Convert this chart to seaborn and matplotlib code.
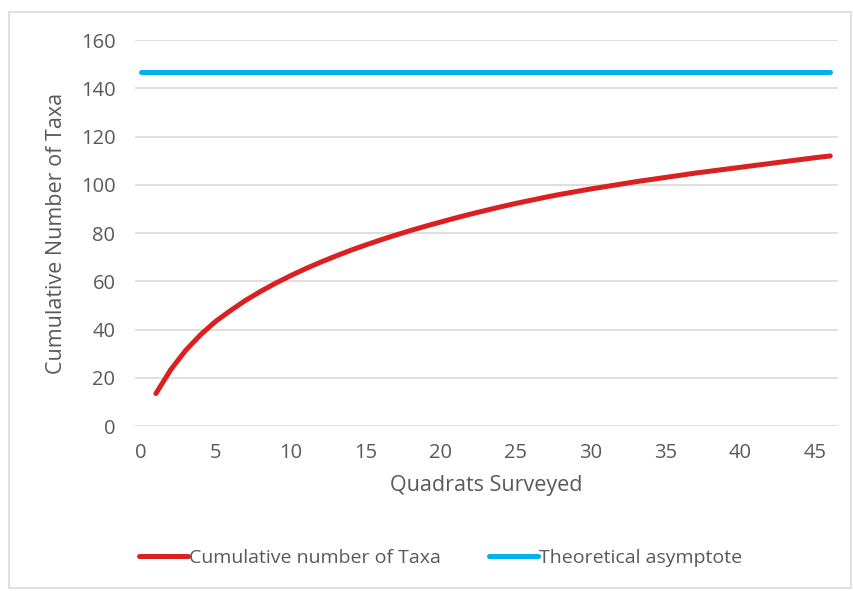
import numpy as np
import pandas as pd
import seaborn as sns
import matplotlib.pyplot as plt
from matplotlib.patches import Rectangle

# values
quadrats = list(range(1, 47))
cumulative_taxa = [13.5, 23.5, 31.5, 38, 43.5, 48, 52.2, 55.9, 59.3, 62.4,
                   65.3, 68, 70.5, 72.9, 75.1, 77.2, 79.2, 81.1, 82.9, 84.6,
                   86.3, 87.9, 89.4, 90.9, 92.3, 93.6, 94.9, 96.1, 97.2, 98.3,
                   99.3, 100.3, 101.3, 102.2, 103.1, 104.0, 104.9, 105.7, 106.5, 107.3,
                   108.1, 108.9, 109.7, 110.5, 111.3, 112.0]
asymptote_x = [0, 46]
asymptote_y = [147, 147]

x_ticks = list(range(0, 50, 5))
y_ticks = list(range(0, 180, 20))

sns.set_style("white")
plt.rcParams['font.family'] = ['Open Sans', 'DejaVu Sans']

text_col = "#595959"
red = "#DA2020"
blue = "#00B0F0"

curve = pd.DataFrame({"x": quadrats, "y": cumulative_taxa})
flat = pd.DataFrame({"x": asymptote_x, "y": asymptote_y})

fig = plt.figure(figsize=(8.54, 5.91), dpi=100)
ax = fig.add_axes([0.158, 0.279, 0.823, 0.653])

sns.lineplot(data=curve, x="x", y="y", ax=ax, color=red, linewidth=3.6,
             solid_capstyle="round", solid_joinstyle="round",
             label="Cumulative number of Taxa")
sns.lineplot(data=flat, x="x", y="y", ax=ax, color=blue, linewidth=3.6,
             solid_capstyle="round", label="Theoretical asymptote")

ax.set_xlim(-0.4, 46.5)
ax.set_ylim(0, 160)
ax.set_xticks(x_ticks)
ax.set_yticks(y_ticks)
ax.yaxis.grid(True, color="#D9D9D9", linewidth=1.2)
ax.set_axisbelow(True)
for s in ax.spines.values():
    s.set_visible(False)
ax.tick_params(axis="both", length=0, labelsize=14.5, colors=text_col)
ax.tick_params(axis="x", pad=12)
ax.tick_params(axis="y", pad=14)

ax.set_xlabel("Quadrats Surveyed", fontsize=15.5, color=text_col, labelpad=9)
ax.set_ylabel("Cumulative Number of Taxa", fontsize=15.5, color=text_col, labelpad=10)

ax.get_legend().remove()
handles, labels = ax.get_legend_handles_labels()
fig.legend(handles, labels, loc="center", bbox_to_anchor=(0.516, 1 - 558 / 591),
           ncol=2, frameon=False, fontsize=14, handlelength=2.5,
           handletextpad=0.05, columnspacing=2.5, labelcolor=text_col)

# light chart border like the source
fig.patches.append(Rectangle((9.5 / 854, 3 / 591), 842 / 854, 576 / 591,
                             transform=fig.transFigure, fill=False,
                             edgecolor="#D9D9D9", linewidth=1.2))

fig.savefig("out.png", dpi=100)
